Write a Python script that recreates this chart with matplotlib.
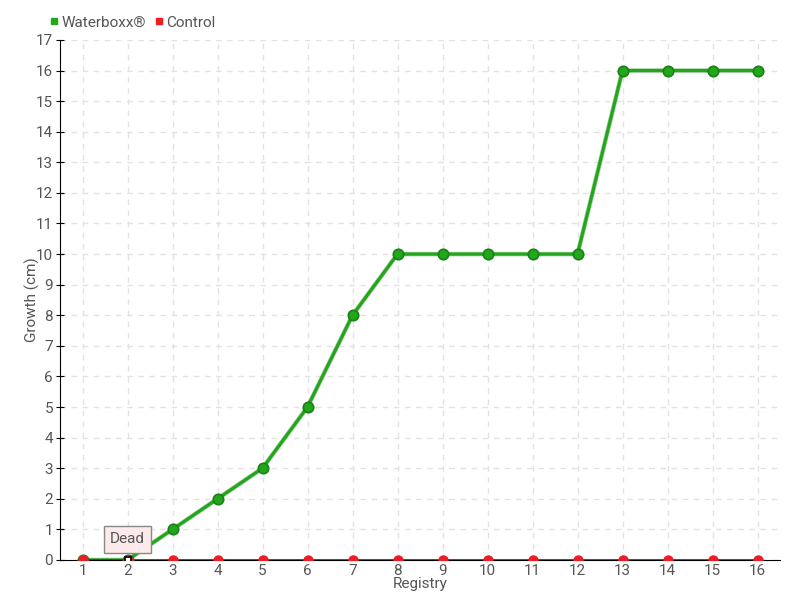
import matplotlib
matplotlib.use('Agg')
import matplotlib.pyplot as plt
from matplotlib.lines import Line2D

plt.rcParams['font.family'] = ['Roboto', 'DejaVu Sans']
plt.rcParams['font.size'] = 11

registry = list(range(1, 17))
waterboxx = [0, 0, 1, 2, 3, 5, 8, 10, 10, 10, 10, 10, 16, 16, 16, 16]
control = [0] * 16
dead_index = 1  # registry 2 of waterboxx marked as "Dead"

GREEN = '#22a61a'
GREEN_DARK = '#1a8018'
RED = '#d0001a'
RED_MARK = '#ee1c25'
TEXT = '#555555'

fig = plt.figure(figsize=(8, 6), dpi=100)
ax = fig.add_axes([0.075, 0.0667, 0.9, 0.8667])

# waterboxx line with a slightly darker underline
ax.plot(registry, waterboxx, color=GREEN_DARK, linewidth=3.2, alpha=0.45, zorder=2,
        solid_capstyle='round')
ax.plot(registry, waterboxx, color=GREEN, linewidth=2.2, zorder=3,
        marker='o', markersize=7.5, markerfacecolor=GREEN,
        markeredgecolor=GREEN_DARK, markeredgewidth=1.2)

ax.plot(registry, control, color=RED, linewidth=1.3, zorder=4,
        marker='o', markersize=6.5, markerfacecolor=RED_MARK,
        markeredgecolor=RED_MARK)

# highlighted "dead" point
ax.plot(registry[dead_index], waterboxx[dead_index], marker='s', markersize=5,
        markerfacecolor='white', markeredgecolor='black', markeredgewidth=1.2,
        zorder=8)
ax.annotate('Dead', xy=(registry[dead_index], waterboxx[dead_index]),
            xytext=(0, 15), textcoords='offset points', ha='center', va='center',
            fontsize=11, color=TEXT, zorder=7,
            bbox=dict(boxstyle='square,pad=0.42', facecolor='#fdeaea',
                      edgecolor='#888888', linewidth=1))

ax.set_xlim(0.5, 16.5)
ax.set_ylim(0, 17)
ax.set_xticks(registry)
ax.set_yticks(range(0, 18))
ax.grid(True, color='#e2e2e2', linestyle=(0, (4, 4)), linewidth=1)
ax.set_axisbelow(True)

for side in ['top', 'right']:
    ax.spines[side].set_visible(False)
ax.spines['left'].set_color('black')
ax.spines['bottom'].set_color('black')
ax.tick_params(axis='y', direction='inout', length=6, colors='black',
               labelcolor=TEXT, labelsize=11, pad=2)
ax.tick_params(axis='x', direction='in', length=0, colors='black',
               labelcolor=TEXT, labelsize=11, pad=3)

ax.set_xlabel('Registry', color=TEXT, fontsize=11, labelpad=-1)
ax.yaxis.set_label_coords(-0.028, 0.5)
ax.set_ylabel('Growth (cm)', color=TEXT, fontsize=11)

handles = [Line2D([], [], linestyle='none', marker='s', markersize=5, color=GREEN),
           Line2D([], [], linestyle='none', marker='s', markersize=5, color=RED_MARK)]
fig.legend(handles, ['Waterboxx®', 'Control'], loc='center left',
           bbox_to_anchor=(0.045, 0.962), frameon=False, ncol=2,
           handlelength=0.6, handletextpad=0.2, columnspacing=0.5,
           fontsize=11, labelcolor=TEXT)

fig.savefig('out.png', dpi=100)
